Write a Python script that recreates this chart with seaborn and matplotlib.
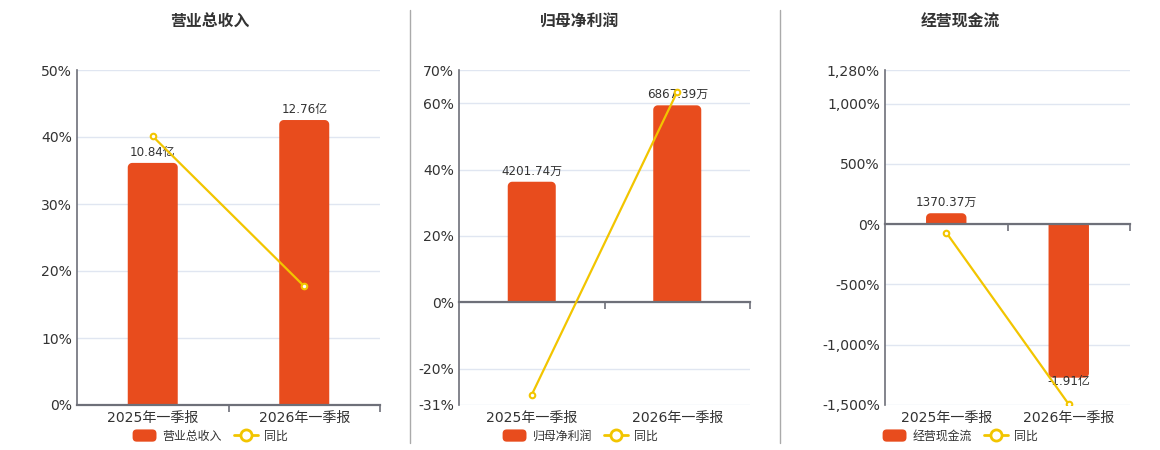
import numpy as np
import pandas as pd
import matplotlib
matplotlib.use("Agg")
import matplotlib.pyplot as plt
import seaborn as sns
from matplotlib.patches import Patch, FancyBboxPatch, Rectangle, Polygon
from matplotlib.lines import Line2D
from matplotlib.ticker import FixedLocator
from matplotlib.transforms import IdentityTransform
from matplotlib.legend_handler import HandlerPatch

# ---------------- data ----------------
categories = ["2025年一季报", "2026年一季报"]

revenue_values = [10.84, 12.76]          # 亿
revenue_labels = ["10.84亿", "12.76亿"]
revenue_yoy = [40.1, 17.71]              # %

profit_values = [4201.74, 6867.39]       # 万
profit_labels = ["4201.74万", "6867.39万"]
profit_yoy = [-27.9, 63.44]              # %

cash_values = [1370.37, -19100.0]        # 万
cash_labels = ["1370.37万", "-1.91亿"]
cash_yoy = [-69.0, -1493.8]              # %

titles = ["营业总收入", "归母净利润", "经营现金流"]
yoy_name = "同比"

pct_ticks = [
    [0, 10, 20, 30, 40, 50],
    [-31, -20, 0, 20, 40, 60, 70],
    [-1500, -1000, -500, 0, 500, 1000, 1280],
]
pct_tick_labels = [
    ["0%", "10%", "20%", "30%", "40%", "50%"],
    ["-31%", "-20%", "0%", "20%", "40%", "60%", "70%"],
    ["-1,500%", "-1,000%", "-500%", "0%", "500%", "1,000%", "1,280%"],
]

# ---------------- style ----------------
sns.set_theme(style="white")
plt.rcParams["font.family"] = ["DejaVu Sans", "Noto Sans CJK SC"]
plt.rcParams["axes.unicode_minus"] = False

BAR_COLOR = "#e84c1d"
LINE_COLOR = "#f2c500"
AXIS_COLOR = "#6e7079"
GRID_COLOR = "#e0e6f1"
TEXT_COLOR = "#333333"

W, H = 1160, 450
fig = plt.figure(figsize=(W / 100, H / 100), dpi=100)
fig.patch.set_facecolor("white")

# axes pixel boxes: (left, right, top, bottom)
boxes = [(77, 380, 70, 405), (459, 750, 70, 405), (885, 1130, 70, 405)]
bar_tops = [15, 8100, 19200]        # hidden bar-axis top value
centers = [210, 580, 960]           # title / legend centres

panels = [
    (revenue_values, revenue_labels, revenue_yoy),
    (profit_values, profit_labels, profit_yoy),
    (cash_values, cash_labels, cash_yoy),
]


def _arc(cx, cy, r, a0, a1, n=10):
    t = np.linspace(np.radians(a0), np.radians(a1), n)
    return np.column_stack([cx + r * np.cos(t), cy + r * np.sin(t)])


def rounded_bars(ax, radius=4.5):
    """Replace the seaborn bars by copies whose outer end is rounded."""
    for bar in list(ax.patches):
        if not isinstance(bar, Rectangle) or not bar.get_visible():
            continue
        bb = bar.get_window_extent()
        x0, x1, y0, y1 = bb.x0, bb.x1, bb.y0, bb.y1
        if y1 - y0 <= 0:
            continue
        r = min(radius, (y1 - y0), (x1 - x0) / 2)
        if bar.get_height() >= 0:
            pts = np.vstack([
                [[x0, y0], [x1, y0]],
                _arc(x1 - r, y1 - r, r, 0, 90),
                _arc(x0 + r, y1 - r, r, 90, 180),
            ])
        else:
            pts = np.vstack([
                [[x1, y1], [x0, y1]],
                _arc(x0 + r, y0 + r, r, 180, 270),
                _arc(x1 - r, y0 + r, r, 270, 360),
            ])
        poly = Polygon(pts, closed=True, transform=IdentityTransform(),
                       facecolor=BAR_COLOR, edgecolor="none", zorder=1)
        ax.add_patch(poly)
        bar.set_visible(False)


class RoundPatchHandler(HandlerPatch):
    def create_artists(self, legend, orig_handle, xdescent, ydescent,
                       width, height, fontsize, trans):
        p = FancyBboxPatch((-xdescent, -ydescent), width, height,
                           boxstyle="round,pad=0,rounding_size=3",
                           facecolor=orig_handle.get_facecolor(),
                           edgecolor="none", transform=trans)
        return [p]


for i, (vals, labs, yoy) in enumerate(panels):
    l, r, t, b = boxes[i]
    rect = [l / W, 1 - b / H, (r - l) / W, (b - t) / H]
    ax = fig.add_axes(rect)
    ax_b = ax.twinx()
    ax_l = ax.twinx()

    lo, hi = pct_ticks[i][0], pct_ticks[i][-1]

    # bars on hidden value axis
    sns.barplot(x=categories, y=vals, ax=ax_b, color=BAR_COLOR,
                saturation=1, width=0.33, errorbar=None)
    # yoy line on percent axis
    sns.pointplot(x=categories, y=yoy, ax=ax_l, color=LINE_COLOR,
                  markers="o", errorbar=None, linewidth=1.6,
                  markersize=4, markerfacecolor="white",
                  markeredgecolor=LINE_COLOR, markeredgewidth=1.5)

    for a in (ax, ax_b, ax_l):
        a.set_xlim(-0.5, 1.5)
        a.set_xlabel("")
        a.set_ylabel("")
    ax.set_ylim(lo, hi)
    ax_l.set_ylim(lo, hi)
    btop = bar_tops[i]
    ax_b.set_ylim(btop * lo / hi, btop)

    # base percent axis: grid, y labels, x labels
    ax.set_yticks(pct_ticks[i])
    ax.set_yticklabels(pct_tick_labels[i])
    ax.yaxis.grid(True, color=GRID_COLOR, linewidth=1)
    ax.xaxis.grid(False)
    ax.set_axisbelow(True)
    ax.set_xticks([0, 1])
    ax.set_xticklabels(categories)
    ax.xaxis.set_minor_locator(FixedLocator([0.5, 1.5]))
    ax.tick_params(axis="y", length=0, pad=3.6, labelsize=10.1,
                   labelcolor=TEXT_COLOR, left=False)
    ax.tick_params(axis="x", which="both", length=0, pad=4,
                   labelsize=10.1, labelcolor=TEXT_COLOR)
    for s in ("top", "right", "bottom"):
        ax.spines[s].set_visible(False)
    ax.spines["left"].set_color(AXIS_COLOR)
    ax.spines["left"].set_linewidth(1.2)

    # bar axis: zero line with boundary ticks
    ax_b.xaxis.set_visible(True)
    ax_b.yaxis.set_visible(False)
    for s in ("top", "right", "left"):
        ax_b.spines[s].set_visible(False)
    ax_b.spines["bottom"].set_position(("data", 0))
    ax_b.spines["bottom"].set_color(AXIS_COLOR)
    ax_b.spines["bottom"].set_linewidth(1.6)
    ax_b.tick_params(axis="x", which="major", length=0, labelbottom=False)
    ax_b.tick_params(axis="x", which="minor", length=5, width=1.2,
                     color=AXIS_COLOR, direction="out", bottom=True,
                     labelbottom=False)

    # line axis: nothing visible but the line
    ax_l.xaxis.set_visible(False)
    ax_l.yaxis.set_visible(False)
    for s in ax_l.spines.values():
        s.set_visible(False)

    # bar value labels
    cont = ax_b.containers[0]
    pos_labels = [lab if v >= 0 else "" for v, lab in zip(vals, labs)]
    neg_labels = [lab if v < 0 else "" for v, lab in zip(vals, labs)]
    ax_b.bar_label(cont, labels=pos_labels, padding=3, fontsize=8.6,
                   color=TEXT_COLOR)
    ax_b.bar_label(cont, labels=neg_labels, padding=-2, fontsize=8.6,
                   color=TEXT_COLOR)

    rounded_bars(ax_b)

    # title
    fig.text(centers[i] / W, 1 - 22 / H, titles[i], ha="center", va="center",
             fontsize=11.4, fontweight="bold", color=TEXT_COLOR)

    # legend
    bar_handle = Patch(facecolor=BAR_COLOR, edgecolor="none")
    handles = [
        bar_handle,
        Line2D([], [], color=LINE_COLOR, linewidth=2, marker="o",
               markersize=8, markerfacecolor="white",
               markeredgecolor=LINE_COLOR, markeredgewidth=2),
    ]
    fig.legend(handles, [titles[i], yoy_name], loc="center",
               bbox_to_anchor=(centers[i] / W, 1 - 436 / H), ncol=2,
               frameon=False, fontsize=8.6, handlelength=2.0,
               handleheight=1.2, handletextpad=0.5, columnspacing=1.0,
               labelcolor=TEXT_COLOR, borderpad=0,
               handler_map={bar_handle: RoundPatchHandler()})

# separators
for xs in (410, 780):
    fig.add_artist(Line2D([xs / W, xs / W], [1 - 10 / H, 1 - 443 / H],
                          transform=fig.transFigure, color="#aaaaaa",
                          linewidth=1))

fig.savefig("out.png", dpi=100, facecolor="white")
